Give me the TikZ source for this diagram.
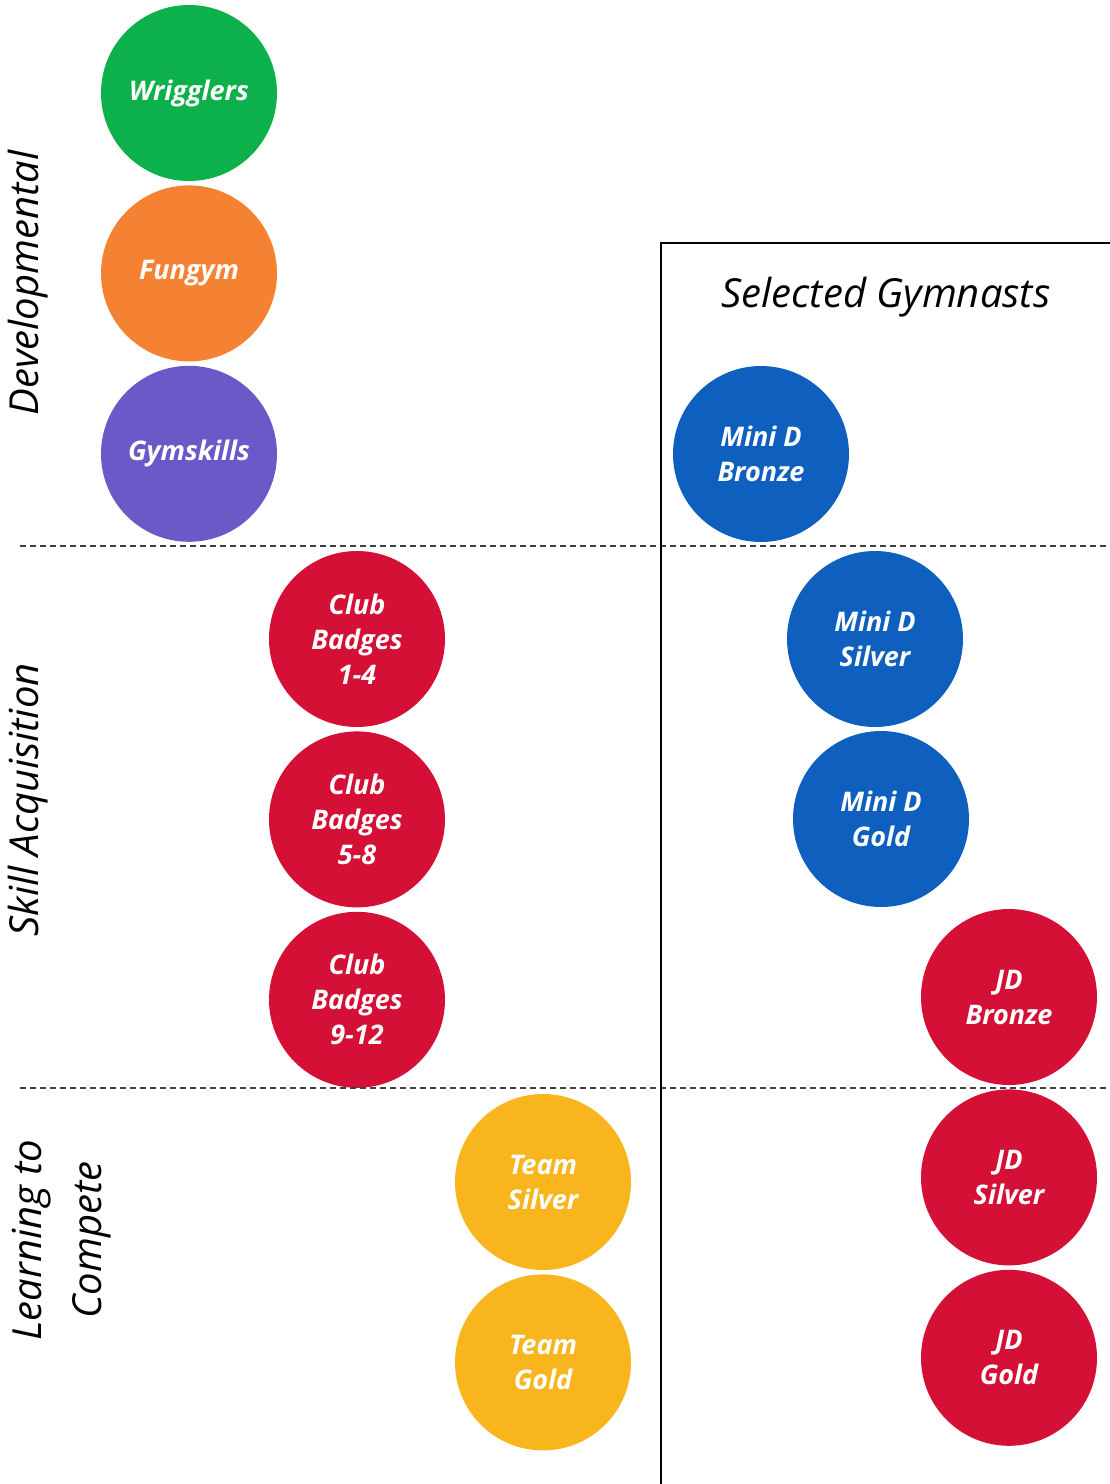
\documentclass[tikz,border=0pt]{standalone}
\usepackage{fontspec}
\setmainfont{Open Sans}
\usetikzlibrary{positioning}
\definecolor{WriggleColor}{RGB}{13,177,75}
\definecolor{FunColor}{RGB}{245,130,50}
\definecolor{SkillsColor}{RGB}{106,90,200}
\definecolor{MiniColor}{RGB}{15,95,190}
\definecolor{BadgeColor}{RGB}{212,16,54}
\definecolor{TeamColor}{RGB}{249,181,30}

\begin{document}
\begin{tikzpicture}[x=1pt, y=-1pt,
    stage/.style={circle, minimum size=176pt, inner sep=0pt, text=white,
    align=center, font=\fontsize{27}{35}\selectfont\bfseries\itshape},
    band/.style={rotate=90, align=center,
    font=\fontsize{40}{60}\selectfont\itshape},
    divider/.style={dashed, dash pattern=on 6pt off 4pt, line width=1.4pt, black!75}]

    \useasboundingbox (0,0) rectangle (1110,1484);

    % left column
    \node[stage, fill=WriggleColor] at (189,93) (Wrigglers) {Wrigglers};
    \node[stage, fill=FunColor, below=4pt of Wrigglers] (Fungym) {Fungym};
    \node[stage, fill=SkillsColor, below=4pt of Fungym] (Gymskills) {Gymskills};

    \node[stage, fill=BadgeColor] at (357,639) (ClubA) {Club\\Badges\\1-4};
    \node[stage, fill=BadgeColor, below=4pt of ClubA] (ClubB) {Club\\Badges\\5-8};
    \node[stage, fill=BadgeColor, below=4pt of ClubB] (ClubC) {Club\\Badges\\9-12};

    \node[stage, fill=TeamColor] at (543,1182) (TeamSilver) {Team\\Silver};
    \node[stage, fill=TeamColor, below=4pt of TeamSilver] (TeamGold) {Team\\Gold};

    % selected gymnasts
    \node[stage, fill=MiniColor] at (761,454) (MiniBronze) {Mini D\\Bronze};
    \node[stage, fill=MiniColor] at (875,639) (MiniSilver) {Mini D\\Silver};
    \node[stage, fill=MiniColor] at (881,819) (MiniGold) {Mini D\\Gold};

    \node[stage, fill=BadgeColor] at (1009,997) (JDBronze) {JD\\Bronze};
    \node[stage, fill=BadgeColor, below=4pt of JDBronze] (JDSilver) {JD\\Silver};
    \node[stage, fill=BadgeColor, below=4pt of JDSilver] (JDGold) {JD\\Gold};

    \node[font=\fontsize{40}{46}\selectfont\itshape] at (886,297) (Selected) {Selected Gymnasts};

    % side labels
    \node[band] at (28,283) (Developmental) {Developmental};
    \node[band] at (28,800) (Acquisition) {Skill Acquisition};
    \node[band] at (62,1240) (Compete) {Learning to\\Compete};

    % dividers and box
    \coordinate (BoxCorner) at (661,243);
    \draw[divider] (20,546) -- (1110,546);
    \draw[divider] (20,1088) -- (1110,1088);
    \draw[line width=2.8pt] (BoxCorner |- 0,1484) -- (BoxCorner) -- (1110,243);

\end{tikzpicture}
\end{document}
